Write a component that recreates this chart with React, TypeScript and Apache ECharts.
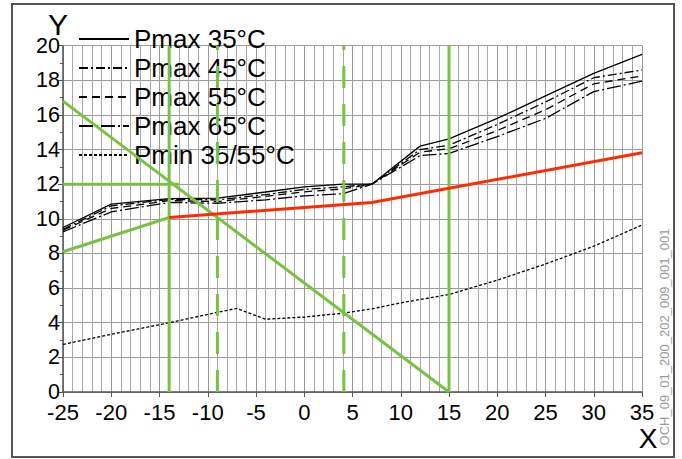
import React, { useEffect, useRef } from "react";
import * as echarts from "echarts";

const xPmax = [-25, -20, -14, -9, -4, 0, 4, 7, 12, 15, 20, 25, 30, 35];
const pmax35 = [9.5, 10.85, 11.17, 11.2, 11.55, 11.85, 12.0, 12.0, 14.2, 14.62, 15.8, 17.1, 18.4, 19.5];
const pmax45 = [9.4, 10.75, 11.12, 11.1, 11.4, 11.7, 11.85, 12.0, 14.0, 14.25, 15.45, 16.75, 18.15, 18.6];
const pmax55 = [9.35, 10.6, 11.05, 11.0, 11.3, 11.56, 11.73, 12.0, 13.85, 14.05, 15.1, 16.3, 17.8, 18.25];
const pmax65 = [9.25, 10.4, 10.95, 10.9, 11.1, 11.33, 11.45, 12.0, 13.65, 13.78, 14.75, 15.8, 17.35, 17.95];

const xPmin = [-25, -20, -14, -9, -7, -4, 0, 4, 7, 10, 15, 20, 25, 30, 35];
const pmin = [2.75, 3.33, 4.0, 4.6, 4.83, 4.2, 4.33, 4.55, 4.8, 5.15, 5.63, 6.46, 7.39, 8.42, 9.64];

const xRed = [-14, 7, 35];
const yRed = [10.08, 10.94, 13.82];

const xDiag = [-25, 15];
const yDiag = [16.8, 0];
const xLow = [-25, -14];
const yLow = [8.1, 10.08];
const xHoriz = [-25, -13];
const yHoriz = [12, 12];
const solidVerticals = [-14, 15];
const dashedVerticals = [-9, 4.1];
const verticalSpan = [0, 20];

const legendNames = ["Pmax 35°C", "Pmax 45°C", "Pmax 55°C", "Pmax 65°C", "Pmin 35/55°C"];
const xTickLabels = [-25, -20, -15, -10, -5, 0, 5, 10, 15, 20, 25, 30, 35];
const yTickLabels = [0, 2, 4, 6, 8, 10, 12, 14, 16, 18, 20];

const zip = (xs: number[], ys: number[]) => xs.map((x, i) => [x, ys[i]]);

const GREEN = "#7ac143";
const RED = "#ff2b00";
const FONT = "Liberation Sans, Arial, sans-serif";

export default function App() {
  const ref = useRef<HTMLDivElement>(null);
  useEffect(() => {
    if (!ref.current) return;
    const chart = echarts.init(ref.current, undefined, { renderer: "svg" });

    const blackLine = (name: string, xs: number[], ys: number[], dash: any) => ({
      name,
      type: "line",
      data: zip(xs, ys),
      symbol: "none",
      color: "#000",
      itemStyle: { color: "#000" },
      lineStyle: { color: "#000", width: 1.3, type: dash },
      z: 3,
    });
    const greenLine = (data: number[][], dashed: boolean) => ({
      type: "line",
      data,
      symbol: "none",
      silent: true,
      lineStyle: { color: GREEN, width: 3, type: dashed ? [22, 16] : "solid" },
      z: 4,
    });

    const series: any[] = [
      blackLine(legendNames[0], xPmax, pmax35, "solid"),
      blackLine(legendNames[1], xPmax, pmax45, [9, 3, 2, 3]),
      blackLine(legendNames[2], xPmax, pmax55, [8, 5]),
      blackLine(legendNames[3], xPmax, pmax65, [14, 3, 2, 3]),
      blackLine(legendNames[4], xPmin, pmin, [3, 2]),
      {
        type: "line",
        data: zip(xRed, yRed),
        symbol: "none",
        lineStyle: { color: RED, width: 3 },
        z: 5,
      },
      greenLine(zip(xDiag, yDiag), false),
      greenLine(zip(xLow, yLow), false),
      greenLine(zip(xHoriz, yHoriz), false),
      ...solidVerticals.map((x) => greenLine(verticalSpan.map((y) => [x, y]), false)),
      ...dashedVerticals.map((x) => greenLine(verticalSpan.map((y) => [x, y]), true)),
    ];

    chart.setOption({
      animation: false,
      backgroundColor: "#fff",
      textStyle: { fontFamily: FONT },
      grid: { left: 63, right: 40, top: 45.7, bottom: 67, containLabel: false },
      legend: {
        data: legendNames,
        orient: "vertical",
        left: 73,
        top: 21,
        itemWidth: 50,
        itemHeight: 14,
        itemGap: 3,
        selectedMode: false,
        itemStyle: { opacity: 0 },
        textStyle: { fontSize: 26, color: "#000", fontFamily: FONT, lineHeight: 26 },
      },
      xAxis: {
        type: "value",
        min: -25,
        max: 35,
        interval: 5,
        axisLine: { show: true, onZero: false, lineStyle: { color: "#555", width: 1.5 } },
        axisTick: { show: true, length: 5, lineStyle: { color: "#555" } },
        minorTick: { show: false, splitNumber: 5 },
        axisLabel: {
          fontSize: 22,
          lineHeight: 18,
          color: "#000",
          margin: 11,
          formatter: (v: number) => (xTickLabels.includes(v) ? String(v) : ""),
        },
        splitLine: { show: true, lineStyle: { color: "#9a9a9a", width: 1 } },
        minorSplitLine: { show: true, lineStyle: { color: "#a8a8a8", width: 1 } },
      },
      yAxis: {
        type: "value",
        min: 0,
        max: 20,
        interval: 2,
        axisLine: { show: true, onZero: false, lineStyle: { color: "#555", width: 1.5 } },
        axisTick: { show: true, length: 5, lineStyle: { color: "#555" } },
        minorTick: { show: true, splitNumber: 2, length: 3, lineStyle: { color: "#555" } },
        axisLabel: {
          fontSize: 21.5,
          lineHeight: 18,
          color: "#000",
          margin: 3,
          formatter: (v: number) => (yTickLabels.includes(v) ? String(v) : ""),
        },
        splitLine: { show: true, lineStyle: { color: "#9a9a9a", width: 1 } },
      },
      graphic: [
        {
          type: "rect",
          shape: { x: 12, y: 4, width: 662, height: 453 },
          style: { fill: "none", stroke: "#555", lineWidth: 2 },
          silent: true,
          z: 0,
        },
        {
          type: "text",
          x: 58,
          y: 24.5,
          style: {
            text: "Y",
            fontSize: 30,
            lineHeight: 20,
            fontFamily: FONT,
            fill: "#000",
            align: "center",
            verticalAlign: "middle",
          },
        },
        {
          type: "text",
          x: 648,
          y: 438,
          style: { text: "X", fontSize: 28, fontFamily: FONT, fill: "#000", align: "center", verticalAlign: "middle" },
        },
        {
          type: "text",
          x: 664,
          y: 337,
          rotation: Math.PI / 2,
          style: {
            text: "OCH_09_01_200_202_009_001_001",
            fontSize: 13,
            fontFamily: FONT,
            fill: "#999",
            align: "center",
            verticalAlign: "middle",
          },
        },
      ],
      series,
    });
    return () => chart.dispose();
  }, []);
  return <div ref={ref} style={{ position: "absolute", left: 0, top: 0, width: 682, height: 459 }} />;
}
